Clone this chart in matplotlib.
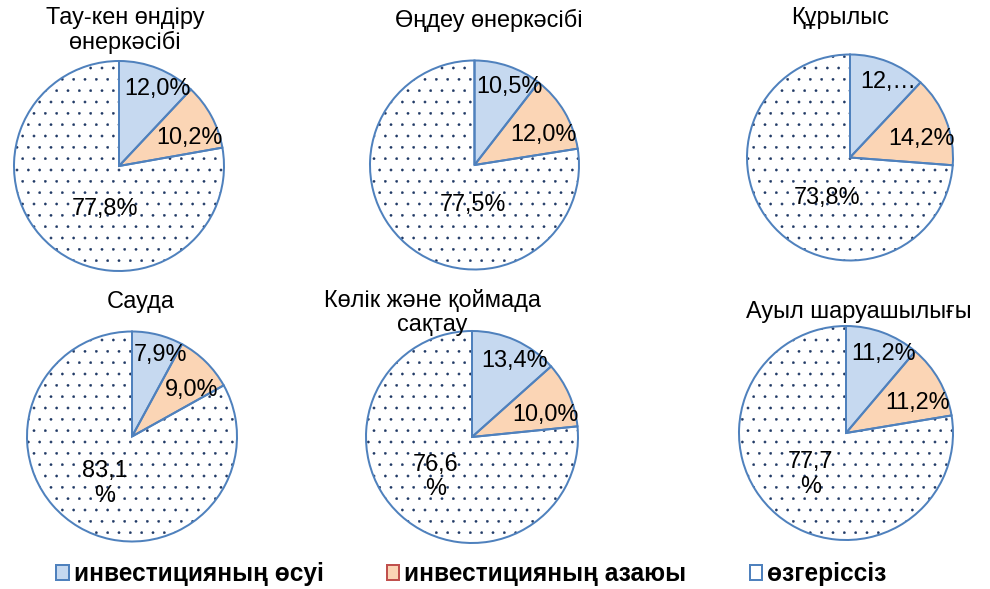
import numpy as np
import matplotlib
matplotlib.use("Agg")
import matplotlib.pyplot as plt
from matplotlib.patches import Patch

plt.rcParams['font.family'] = ['Liberation Sans', 'DejaVu Sans']

# data
sectors = ["Тау-кен өндіру\nөнеркәсібі", "Өңдеу өнеркәсібі", "Құрылыс",
           "Сауда", "Көлік және қоймада\nсақтау", "Ауыл шаруашылығы"]
series = ["инвестицияның өсуі", "инвестицияның азаюы", "өзгеріссіз"]
growth = [12.0, 10.5, 12.0, 7.9, 13.4, 11.2]
decline = [10.2, 12.0, 14.2, 9.0, 10.0, 11.2]
unchanged = [77.8, 77.5, 73.8, 83.1, 76.6, 77.7]
value_labels = [["12,0%", "10,2%", "77,8%"],
                ["10,5%", "12,0%", "77,5%"],
                ["12,…", "14,2%", "73,8%"],
                ["7,9%", "9,0%", "83,1\n%"],
                ["13,4%", "10,0%", "76,6\n%"],
                ["11,2%", "11,2%", "77,7\n%"]]

# layout (pixels, y from top)
DPI = 136
W, H = 990, 589
PT = 72 / DPI
pie_box = [(119, 166, 105), (474.5, 165, 104.5), (850, 157.5, 103),
           (132, 436.5, 105), (472, 437, 106), (846, 433, 107)]
title_pos = [(125, 30.5), (489, 20), (840, 18), (141, 302), (432, 312.5), (859, 312)]
# label radius (fraction of r) and angle shift per slice
lab_r = [0.82, 0.72, 0.5]
lab_shift = [-5, -7, 0]
third_adj = [(0.43, 22), (0.38, 38), (0.45, 17), (0.52, 0), (0.51, 0), (0.51, 0)]

BLUE = '#C6D9F0'
ORANGE = '#FBD5B5'
EDGE = '#4F81BD'
NAVY = '#1F3864'
FS = 23.5 * PT

plt.rcParams['hatch.linewidth'] = 0.2

fig = plt.figure(figsize=(W / DPI, H / DPI), dpi=DPI)

for i in range(6):
    cx, cy, r = pie_box[i]
    pad = 1.05
    ax = fig.add_axes([(cx - r * pad) / W, 1 - (cy + r * pad) / H,
                       2 * r * pad / W, 2 * r * pad / H])
    vals = [growth[i], decline[i], unchanged[i]]
    ax.pie(vals, colors=[BLUE, ORANGE, 'white'], hatch=['', '', '..'],
           startangle=90, counterclock=False, radius=r,
           wedgeprops=dict(linewidth=0, edgecolor=NAVY))
    wedges, _ = ax.pie(vals, startangle=90, counterclock=False, radius=r,
                       wedgeprops=dict(fill=False, linewidth=2 * PT, edgecolor=EDGE))
    ax.set_xlim(-r * pad, r * pad)
    ax.set_ylim(-r * pad, r * pad)
    ax.axis('off')

    for j, w in enumerate(wedges):
        mid = (w.theta1 + w.theta2) / 2 + lab_shift[j]
        rr = lab_r[j]
        if j == 2:
            rr, sh = third_adj[i]
            mid += sh
        ax.text(rr * r * np.cos(np.radians(mid)), rr * r * np.sin(np.radians(mid)),
                value_labels[i][j], ha='center', va='center', fontsize=FS,
                color='black', linespacing=1.15)

    tx, ty = title_pos[i]
    fig.text(tx / W, 1 - ty / H, sectors[i], ha='center', va='center',
             fontsize=FS, color='black', linespacing=1.1)

handles = [Patch(facecolor=BLUE, edgecolor=EDGE, linewidth=2 * PT),
           Patch(facecolor=ORANGE, edgecolor='#C0504D', linewidth=2 * PT),
           Patch(facecolor='white', edgecolor=EDGE, linewidth=2 * PT)]
fig.legend(handles, series, loc='center', bbox_to_anchor=(471.5 / W, 15 / H),
           ncol=3, frameon=False, prop=dict(size=24.5 * PT, weight='bold'),
           handlelength=0.5, handleheight=0.55, handletextpad=0.2,
           columnspacing=2.6, borderpad=0, borderaxespad=0)

fig.savefig('out.png', dpi=DPI)
